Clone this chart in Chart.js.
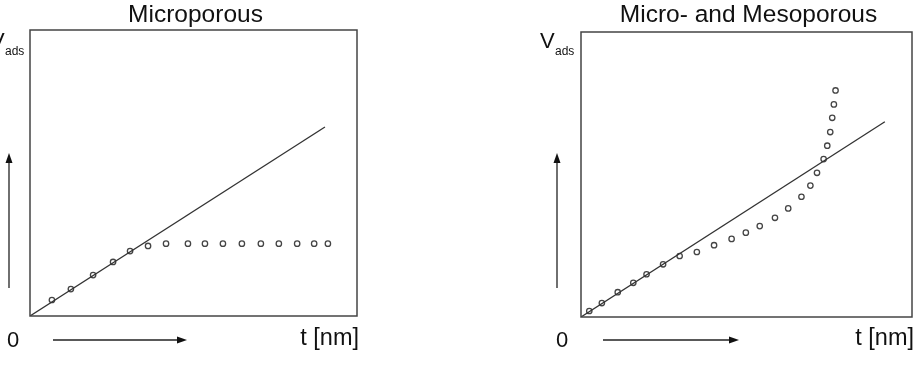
<!DOCTYPE html>
<html>
<head>
<meta charset="utf-8">
<script src="https://cdn.jsdelivr.net/npm/chart.js@4.4.1/dist/chart.umd.min.js"></script>
<style>
  body { margin: 0; background: #fff; }
  .panel { position: absolute; top: 0; width: 459px; height: 365px; }
</style>
</head>
<body>
<div class="panel" style="left:0"><canvas id="micro"></canvas></div>
<div class="panel" style="left:459px"><canvas id="meso"></canvas></div>
<script>
// left panel: microporous
const microT = [6.7, 12.5, 19.3, 25.4, 30.6, 36.1, 41.6, 48.3, 53.5, 59.0, 64.8, 70.6, 76.1, 81.7, 86.9, 91.1];
const microV = [5.6, 9.4, 14.3, 18.9, 22.7, 24.5, 25.3, 25.3, 25.3, 25.3, 25.3, 25.3, 25.3, 25.3, 25.3, 25.3];
const microLineT = [0, 90.2];
const microLineV = [0, 66.1];

// right panel: micro- and mesoporous
const mesoT = [2.5, 6.3, 11.1, 15.8, 19.8, 24.8, 29.8, 35.0, 40.2, 45.5, 49.8, 54.0, 58.6, 62.6, 66.6, 69.3, 71.3, 73.3, 74.4, 75.3, 75.9, 76.4, 76.9];
const mesoV = [2.1, 4.9, 8.7, 12.0, 15.0, 18.5, 21.4, 22.8, 25.2, 27.4, 29.6, 31.9, 34.8, 38.1, 42.2, 46.1, 50.6, 55.4, 60.1, 64.9, 69.9, 74.6, 79.5];
const mesoLineT = [0, 91.8];
const mesoLineV = [0, 68.5];

const toPts = (xs, ys) => xs.map((x, i) => ({ x: x, y: ys[i] }));

function arrow(ctx, x1, y1, x2, y2) {
    const ang = Math.atan2(y2 - y1, x2 - x1);
    const len = 10, hw = 3.5;
    const bx = x2 - len * Math.cos(ang), by = y2 - len * Math.sin(ang);
    ctx.beginPath();
    ctx.moveTo(x1, y1);
    ctx.lineTo(bx, by);
    ctx.stroke();
    ctx.beginPath();
    ctx.moveTo(x2, y2);
    ctx.lineTo(bx - hw * Math.sin(ang), by + hw * Math.cos(ang));
    ctx.lineTo(bx + hw * Math.sin(ang), by - hw * Math.cos(ang));
    ctx.closePath();
    ctx.fill();
}

// box, axis labels and arrows
const decor = {
    id: 'decor',
    afterDraw(chart, args, o) {
        const ctx = chart.ctx;
        const a = chart.chartArea;
        ctx.save();
        ctx.strokeStyle = '#444';
        ctx.lineWidth = 1.5;
        ctx.strokeRect(a.left, a.top, a.right - a.left, a.bottom - a.top);

        ctx.fillStyle = '#111';
        ctx.textBaseline = 'alphabetic';
        ctx.font = '24.5px "Liberation Sans", Arial, sans-serif';
        ctx.textAlign = 'center';
        ctx.fillText(o.title, (a.left + a.right) / 2 + 2, 22);

        ctx.font = '22px "Liberation Sans", Arial, sans-serif';
        ctx.textAlign = 'left';
        ctx.fillText('V', o.vx, 48);
        ctx.font = '12px "Liberation Sans", Arial, sans-serif';
        ctx.fillText('ads', o.vx + 15, 55);

        ctx.font = '22px "Liberation Sans", Arial, sans-serif';
        ctx.textAlign = 'center';
        ctx.fillText('0', o.zx, 347);
        ctx.font = '23.5px "Liberation Sans", Arial, sans-serif';
        ctx.textAlign = 'right';
        ctx.fillText('t [nm]', a.right + 2, 345);

        ctx.strokeStyle = '#222';
        ctx.fillStyle = '#111';
        ctx.lineWidth = 1.3;
        arrow(ctx, o.ax, 288, o.ax, 153);
        arrow(ctx, o.hx1, 340, o.hx2, 340);
        ctx.restore();
    }
};

function makeChart(id, lt, lv, pt, pv, pad, deco) {
    new Chart(document.getElementById(id), {
        type: 'scatter',
        data: {
            datasets: [{
                type: 'line',
                data: toPts(lt, lv),
                borderColor: '#333',
                borderWidth: 1.3,
                pointRadius: 0,
                fill: false
            }, {
                data: toPts(pt, pv),
                backgroundColor: '#fff',
                borderColor: '#444',
                borderWidth: 1.3,
                pointRadius: 2.7
            }]
        },
        options: {
            responsive: true,
            maintainAspectRatio: false,
            animation: false,
            events: [],
            layout: { padding: pad },
            plugins: {
                legend: { display: false },
                tooltip: { enabled: false },
                decor: deco
            },
            scales: {
                x: { type: 'linear', min: 0, max: 100, display: false },
                y: { type: 'linear', min: 0, max: 100, display: false }
            }
        },
        plugins: [decor]
    });
}

makeChart('micro', microLineT, microLineV, microT, microV,
    { left: 30, right: 102, top: 30, bottom: 49 },
    { title: 'Microporous', vx: -10, zx: 13, ax: 9, hx1: 53, hx2: 187 });

makeChart('meso', mesoLineT, mesoLineV, mesoT, mesoV,
    { left: 122, right: 6, top: 32, bottom: 48 },
    { title: 'Micro- and Mesoporous', vx: 81, zx: 103, ax: 98, hx1: 144, hx2: 280 });
</script>
</body>
</html>
